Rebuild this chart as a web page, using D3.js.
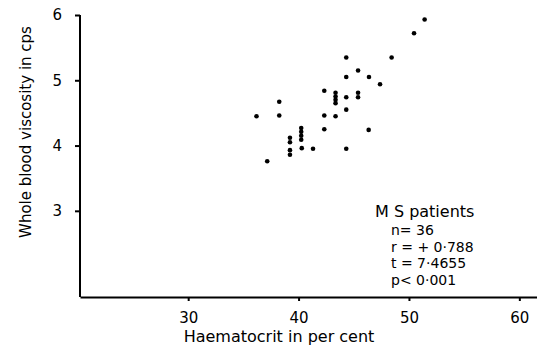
<!DOCTYPE html>
<html><head><meta charset="utf-8">
<script src="https://cdn.jsdelivr.net/npm/d3@7"></script>
<style>
html,body{margin:0;padding:0;background:#fff;}
svg text{font-family:"DejaVu Sans",sans-serif;fill:#000;}
</style></head>
<body><svg id="c" width="537" height="346"></svg>
<script>
const haematocrit = [51.42,50.46,44.32,48.43,45.39,44.32,46.38,47.38,42.33,43.35,43.35,43.35,43.35,44.32,45.39,45.39,38.25,36.19,38.25,42.33,43.35,44.32,42.33,46.35,39.22,39.22,39.22,39.22,40.24,40.24,40.24,40.24,40.29,41.31,44.32,37.16];
const viscosity = [5.93,5.72,5.35,5.35,5.15,5.05,5.05,4.94,4.84,4.81,4.75,4.70,4.65,4.74,4.81,4.74,4.67,4.45,4.46,4.46,4.45,4.55,4.25,4.24,4.12,4.05,3.93,3.86,4.27,4.21,4.15,4.09,3.96,3.95,3.95,3.76];
const xTicks = [30,40,50,60];
const yTicks = [3,4,5,6];
const statsLines = ["n= 36","r = + 0·788","t = 7·4655","p< 0·001"];
const statsTitle = "M S patients";
const xTitle = "Haematocrit in per cent";
const yTitle = "Whole blood viscosity in cps";

const svg = d3.select("#c");
const x = d3.scaleLinear().domain([20.2, 61.6]).range([80, 537]);
const y = d3.scaleLinear().domain([1.68, 6]).range([297, 15]);

// y axis
const ya = svg.append("g").attr("transform","translate(80,0)")
  .call(d3.axisLeft(y).tickValues(yTicks).tickFormat(d3.format("d")).tickSize(5).tickSizeOuter(0).tickPadding(13));
ya.select(".domain").attr("stroke","#000").attr("stroke-width",2).attr("d",`M0,${y(6)}V${y.range()[0]}`);
ya.selectAll(".tick line").attr("stroke-width",2);
ya.selectAll(".tick text").style("font-size","15px").attr("font-family","DejaVu Sans");

// x axis
const xa = svg.append("g").attr("transform","translate(0,297)")
  .call(d3.axisBottom(x).tickValues(xTicks).tickFormat(d3.format("d")).tickSize(4).tickSizeOuter(0).tickPadding(11));
xa.select(".domain").attr("stroke","#000").attr("stroke-width",2);
xa.selectAll(".tick line").attr("stroke-width",2);
xa.selectAll(".tick text").style("font-size","15px").attr("font-family","DejaVu Sans");

// titles
svg.append("text").attr("x",279).attr("y",342).attr("text-anchor","middle").style("font-size","16px").text(xTitle);
svg.append("text").attr("transform","translate(31,132) rotate(-90)").attr("text-anchor","middle").style("font-size","15px").text(yTitle);

// points
svg.append("g").selectAll("circle").data(haematocrit.map((h,i)=>[h,viscosity[i]])).join("circle")
  .attr("cx",d=>x(d[0])).attr("cy",d=>y(d[1])).attr("r",2.3).attr("fill","#000");

// stats
svg.append("text").attr("x",375).attr("y",217).style("font-size","16px").text(statsTitle);
svg.append("g").selectAll("text").data(statsLines).join("text")
  .attr("x",391).attr("y",(d,i)=>235+i*16.67).style("font-size","14px").text(d=>d);
</script></body></html>
